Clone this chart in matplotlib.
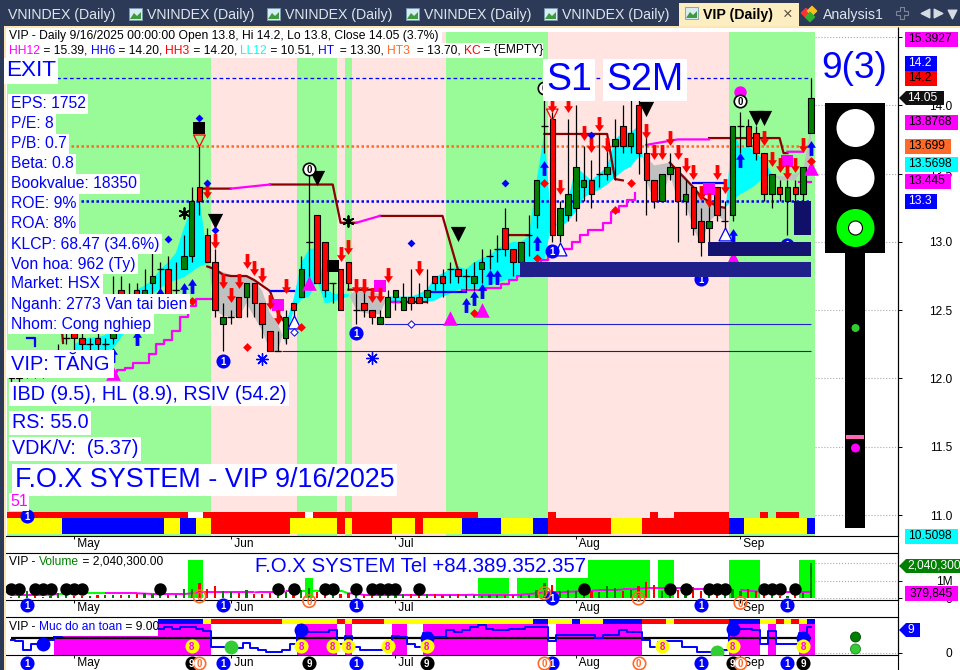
import numpy as np
import matplotlib

matplotlib.use("Agg")
import matplotlib.pyplot as plt
from matplotlib.patches import Circle, Polygon, Rectangle
from matplotlib.path import Path

plt.rcParams["font.family"] = ["Liberation Sans", "DejaVu Sans"]

nan = float("nan")

# daily candles, one value per session
opens = [
    12.05, 12.00, 12.05, 12.10, 12.05, 12.10, 12.15, 12.30, 12.35, 12.30,
    12.25, 12.30, 12.25, 12.30, 12.65, 12.55, 12.65, 12.60, 12.70, 12.80,
    12.80, 12.65, 12.80, 12.90, 13.40, 13.05, 12.85, 12.40, 12.45, 12.60,
    12.60, 12.70, 12.55, 12.35, 12.20, 12.30, 12.55, 12.60, 13.00, 13.20,
    13.00, 12.70, 12.80, 12.85, 12.50, 12.55, 12.50, 12.40, 12.45, 12.60,
    12.50, 12.60, 12.60, 12.60, 12.75, 12.75, 12.80, 12.80, 12.75, 12.70,
    12.80, 12.90, 12.95, 13.10, 12.95, 12.85, 13.05, 13.20, 13.85, 13.90,
    13.05, 13.20, 13.25, 13.40, 13.45, 13.50, 13.50, 13.70, 13.85, 13.70,
    14.00, 13.65, 13.45, 13.30, 13.50, 13.55, 13.30, 13.40, 13.15, 13.10,
    13.40, 13.15, 13.20, 13.85, 13.85, 13.80, 13.65, 13.35, 13.40, 13.30,
    13.40, 13.35, 13.80,
]
closes = [
    12.00, 12.05, 12.10, 12.05, 12.10, 12.15, 12.20, 12.30, 12.30, 12.25,
    12.25, 12.25, 12.25, 12.35, 12.55, 12.55, 12.55, 12.65, 12.75, 12.80,
    12.60, 12.65, 12.90, 13.30, 13.30, 12.85, 12.50, 12.45, 12.45, 12.45,
    12.70, 12.55, 12.40, 12.20, 12.20, 12.45, 12.50, 12.80, 13.00, 12.70,
    12.65, 12.70, 12.50, 12.70, 12.50, 12.50, 12.45, 12.45, 12.60, 12.65,
    12.60, 12.55, 12.55, 12.65, 12.70, 12.70, 12.80, 12.75, 12.75, 12.75,
    12.85, 12.90, 12.95, 12.95, 12.85, 13.00, 13.05, 13.45, 13.85, 13.05,
    13.25, 13.35, 13.55, 13.45, 13.35, 13.50, 13.55, 13.75, 13.70, 13.80,
    13.65, 13.45, 13.30, 13.50, 13.55, 13.30, 13.35, 13.10, 13.00, 13.15,
    13.20, 13.15, 13.85, 13.85, 13.70, 13.65, 13.35, 13.50, 13.35, 13.40,
    13.35, 13.55, 14.05,
]
highs = [
    12.10, 12.10, 12.15, 12.15, 12.15, 12.20, 12.25, 12.40, 12.40, 12.35,
    12.30, 12.35, 12.30, 12.75, 12.75, 12.70, 12.70, 12.80, 12.95, 12.85,
    12.90, 12.85, 13.05, 13.40, 13.70, 13.10, 12.95, 12.55, 12.50, 12.60,
    12.70, 12.70, 12.55, 12.35, 12.35, 12.50, 12.55, 12.90, 13.50, 13.20,
    13.00, 12.70, 12.80, 12.85, 12.65, 12.65, 12.50, 12.50, 12.65, 12.65,
    12.70, 12.80, 12.70, 12.80, 12.75, 12.80, 12.85, 12.80, 12.80, 12.85,
    12.95, 12.95, 13.05, 13.25, 12.95, 13.00, 13.20, 13.45, 14.05, 13.95,
    13.30, 13.90, 14.00, 13.70, 13.60, 13.80, 13.70, 13.90, 14.00, 14.05,
    14.05, 13.85, 13.45, 13.50, 13.65, 13.55, 13.45, 13.40, 13.25, 13.30,
    13.40, 13.30, 13.85, 13.95, 13.90, 13.85, 13.65, 13.50, 13.45, 13.45,
    13.45, 13.55, 14.20,
]
lows = [
    11.95, 11.95, 12.00, 12.00, 12.00, 12.05, 12.10, 12.25, 12.20, 12.20,
    12.20, 12.20, 12.20, 12.25, 12.50, 12.45, 12.50, 12.50, 12.60, 12.55,
    12.50, 12.60, 12.80, 12.85, 13.20, 12.85, 12.45, 12.20, 12.40, 12.45,
    12.45, 12.45, 12.30, 12.20, 12.20, 12.25, 12.45, 12.60, 12.70, 12.70,
    12.60, 12.55, 12.50, 12.65, 12.40, 12.45, 12.40, 12.40, 12.45, 12.50,
    12.50, 12.50, 12.55, 12.55, 12.65, 12.60, 12.70, 12.70, 12.65, 12.65,
    12.70, 12.80, 12.85, 12.90, 12.75, 12.80, 12.90, 13.10, 13.65, 13.00,
    13.00, 13.15, 13.15, 13.30, 13.25, 13.40, 13.45, 13.45, 13.65, 13.65,
    13.50, 13.20, 13.25, 13.30, 13.45, 13.00, 13.20, 13.05, 12.90, 13.00,
    13.15, 13.05, 13.15, 13.65, 13.70, 13.60, 13.30, 13.25, 13.30, 13.05,
    13.30, 13.30, 13.80,
]
volumes = [
    0.10, 0.15, 0.45, 0.15, 0.10, 0.12, 0.30, 0.25, 0.12, 0.15,
    0.15, 0.20, 0.20, 0.20, 0.20, 0.20, 0.25, 0.30, 0.25, 0.20,
    0.20, 0.20, 0.55, 0.55, 0.90, 0.55, 0.70, 0.40, 0.35, 0.30,
    0.50, 0.25, 0.25, 0.30, 0.25, 0.35, 0.45, 0.50, 0.60, 0.35,
    0.30, 0.25, 0.25, 0.30, 0.20, 0.20, 0.20, 0.15, 0.20, 0.30,
    0.25, 0.25, 0.30, 0.25, 0.25, 0.20, 0.20, 0.25, 0.20, 0.20,
    0.15, 0.20, 0.20, 0.20, 0.20, 0.20, 0.20, 0.50, 0.90, 0.75,
    0.40, 0.50, 0.40, 0.40, 0.40, 0.35, 0.70, 0.60, 0.40, 0.50,
    0.70, 0.95, 0.75, 0.40, 0.35, 0.50, 0.30, 0.65, 0.45, 0.30,
    0.25, 0.25, 0.55, 0.40, 0.55, 0.40, 0.30, 0.20, 0.15, 0.15,
    0.20, 0.30, 2.04,
]
volume_avg = [
    0.20, 0.20, 0.20, 0.20, 0.20, 0.22, 0.25, 0.28, 0.30, 0.30,
    0.30, 0.30, 0.30, 0.30, 0.30, 0.30, 0.30, 0.28, 0.26, 0.25,
    0.25, 0.25, 0.25, 0.30, 0.35, 0.35, 0.35, 0.35, 0.35, 0.35,
    0.35, 0.35, 0.38, 0.38, 0.38, 0.40, 0.40, 0.40, 0.40, 0.45,
    0.45, 0.45, 0.45, 0.30, 0.28, 0.20, 0.20, 0.20, 0.20, 0.20,
    0.20, 0.20, 0.20, 0.20, 0.20, 0.20, 0.20, 0.20, 0.20, 0.22,
    0.22, 0.22, 0.22, 0.22, 0.22, 0.22, 0.25, 0.30, 0.35, 0.35,
    0.35, 0.38, 0.40, 0.45, 0.45, 0.48, 0.48, 0.48, 0.52, 0.52,
    0.55, 0.60, 0.60, 0.60, 0.60, 0.60, 0.60, 0.55, 0.55, 0.55,
    0.55, 0.55, 0.50, 0.50, 0.45, 0.40, 0.38, 0.38, 0.38, 0.38,
    0.38, 0.38, 0.38,
]
safety = [
    5, 4.5, 1.2, 3.5, 3.5, 5, 6.5, 7, 7, 7,
    8, 8, 8, 8, 8, 8, 8, 8, 8, 9.5,
    10.3, 9.5, 10, 10, 9.3, 8.7, 2.5, 2.5, 2.5, 2,
    3.8, 2, 1.2, 0.2, 0.2, 1.2, 3.5, 9, 8.4, 8.4,
    8.4, 9, 3.5, 6.6, 2.5, 1.2, 1.2, 1.2, 1.2, 6.6,
    6.4, 3.5, 2.5, 7.7, 6.4, 6.4, 9, 8.4, 9, 10.3,
    11, 9.5, 9, 9, 9.5, 9.5, 10.3, 10.3, 10.3, 4.7,
    6.9, 6.9, 6.9, 6.9, 6.9, 6, 6.9, 7, 9, 8.4,
    8.4, 5, 2.5, 4.3, 4.7, 4.7, 2.5, 2.5, 0.2, 0.2,
    1.2, 1, 11, 9.5, 9.5, 9, 3.7, 8.6, 3.7, 3.5,
    3.5, 7.7, 10.3,
]

# colour runs as (colour key, number of sessions)
regime_runs = [("g", 26), ("p", 11), ("g", 5), ("p", 1), ("g", 1), ("p", 12),
               ("g", 13), ("p", 23), ("g", 11)]
strip_runs = [("y", 7), ("b", 13), ("y", 2), ("b", 2), ("y", 2), ("r", 10), ("y", 6),
              ("r", 1), ("y", 1), ("r", 5), ("y", 3), ("r", 1), ("y", 5), ("b", 5),
              ("y", 4), ("b", 2), ("r", 8), ("y", 4), ("r", 11), ("b", 2), ("y", 8), ("b", 1)]
flag_runs = [("r", 23), ("w", 2), ("r", 13), ("w", 1), ("r", 21), (None, 9), ("r", 1),
             (None, 12), ("r", 1), (None, 2), ("r", 7), (None, 4), ("r", 1), (None, 1),
             ("r", 3), (None, 2)]
safety_strip_runs = [("b", 25), ("y", 1), ("r", 9), ("y", 7), ("r", 1), ("y", 1), ("r", 4),
                     ("y", 19), ("b", 2), ("y", 3), ("b", 1), ("y", 3), ("b", 5), ("r", 3),
                     ("y", 1), ("r", 7), ("b", 4), ("y", 2), ("r", 1), ("y", 1), ("r", 1),
                     ("y", 1), ("b", 1)]
volume_block_runs = [(0, 23), (2.2, 2), (0, 13), (1.17, 1), (0, 21), (1.17, 4), (0, 1),
                     (1.17, 4), (0, 1), (1.17, 4), (2.2, 8), (0, 1), (2.2, 2), (0, 7),
                     (2.2, 4), (0, 5), (2.2, 2)]
avg_colour_runs = [("m", 6), ("l", 6), ("m", 12), ("m", 13), ("l", 6), ("m", 26), ("m", 13),
                   ("m", 8), ("l", 3), ("m", 10)]

month_bars = [8, 28, 49, 72, 93]
month_labels = ["May", "Jun", "Jul", "Aug", "Sep"]
price_ticks = [11.0, 11.5, 12.0, 12.5, 13.0, 13.5, 14.0, 14.5]

# cloud between fast and slow average, first value is session 8
cloud_start = 8
cloud_fast = [
    12.25, 12.28, 12.30, 12.30, 12.32, 12.38, 12.50, 12.58, 12.65, 12.68,
    12.72, 12.80, 12.85, 12.92, 13.10, 13.25, 13.32, 12.90, 12.50, 12.46,
    12.45, 12.45, 12.55, 12.45, 12.35, 12.20, 12.20, 12.40, 12.58, 12.85,
    12.95, 12.95, 12.68, 12.62, 12.62, 12.62, 12.50, 12.48, 12.47, 12.47,
    12.60, 12.60, 12.60, 12.60, 12.62, 12.65, 12.74, 12.77, 12.80, 12.82,
    12.80, 12.85, 12.88, 12.90, 12.95, 12.98, 13.00, 13.00, 13.04, 13.45,
    13.80, 13.05, 13.20, 13.30, 13.55, 13.50, 13.45, 13.50, 13.55, 13.75,
    13.80, 13.80, 13.85, 13.45, 13.30, 13.32, 13.50, 13.30, 13.28, 13.10,
    12.98, 13.15, 13.20, 13.15, 13.85, 13.68, 13.70, 13.65, 13.60, 13.50,
    13.45, 13.45, 13.45, 13.55, 13.50,
]
cloud_slow = [
    12.20, 12.20, 12.20, 12.20, 12.20, 12.22, 12.30, 12.38, 12.45, 12.52,
    12.62, 12.66, 12.70, 12.72, 12.74, 12.78, 12.82, 12.84, 12.80, 12.78,
    12.76, 12.75, 12.75, 12.72, 12.64, 12.48, 12.40, 12.26, 12.50, 12.58,
    12.60, 12.72, 12.55, 12.56, 12.58, 12.60, 12.65, 12.65, 12.63, 12.62,
    12.56, 12.55, 12.55, 12.55, 12.55, 12.56, 12.57, 12.60, 12.62, 12.65,
    12.66, 12.66, 12.66, 12.68, 12.70, 12.72, 12.73, 12.75, 12.77, 12.85,
    12.87, 13.15, 13.10, 13.15, 13.22, 13.32, 13.36, 13.38, 13.42, 13.47,
    13.52, 13.55, 13.62, 13.62, 13.56, 13.57, 13.58, 13.52, 13.48, 13.40,
    13.33, 13.30, 13.26, 13.25, 13.30, 13.35, 13.38, 13.42, 13.47, 13.49,
    13.48, 13.48, 13.50, 13.52, 13.85,
]

# stepped resistance lines, nan breaks the line
maroon_bars = [0, 1, 2, 3, 4, 6, 6.5, 6.6, nan, 24, 28, nan, 33, 41, 42, 44, nan, 47, 55, 57, nan,
               25, 26, 27, 28, 30, 31, 33, 34, 35, nan, 43, 47, nan, 48, 53, nan, 63, 66, nan,
               68, 76, 77, 78, nan, 84, 87, 88, 90, 91, nan, 89, 98, 98.5, 99]
maroon_prices = [13.50, 13.36, 13.21, 13.06, 12.92, 12.76, 12.33, 12.26, nan, 13.39, 13.39, nan,
                 13.42, 13.42, 13.14, 13.14, nan, 13.19, 13.19, 12.79, nan,
                 12.82, 12.80, 12.76, 12.75, 12.75, 12.72, 12.64, 12.48, 12.40, nan,
                 12.65, 12.65, nan, 12.56, 12.56, nan, 13.05, 13.05, nan,
                 13.79, 13.79, 13.46, 13.45, nan, 13.58, 13.40, 13.33, 13.26, 13.25, nan,
                 13.76, 13.76, 13.65, 13.65]
pink_bars = [28, 33, nan, 44, 47, nan, 81, 85, 89, nan, 99, 101]
pink_prices = [13.39, 13.42, nan, 13.14, 13.19, nan, 13.71, 13.75, 13.75, nan, 13.66, 13.66]
stair_bars = [13, 14, 15, 16, 17, 18, 19, 20, 21, 22, 23, 24, 25, 26, nan,
              48, 49, 50, nan, 57, 58, 59, 60, 61, 62, 63, 64, 65, 66, 67, 68, 69, 70, 71,
              72, 73, 74, 75, 76, 77, 78, 79, 80, nan, 83, 84, nan, 100, 101, 102]
stair_prices = [12.05, 12.06, 12.08, 12.11, 12.11, 12.18, 12.25, 12.28, 12.35, 12.45, 12.53,
                12.58, 12.58, 12.58, nan, 12.56, 12.56, 12.56, nan,
                12.65, 12.65, 12.65, 12.65, 12.66, 12.66, 12.69, 12.72, 12.75, 12.75, 12.80, 12.87,
                12.90, 12.95, 12.95, 13.00, 13.05, 13.09, 13.09, 13.14, 13.22, 13.26, 13.31, 13.36,
                nan, 13.45, 13.45, nan, 13.44, 13.44, 13.44]
blue_bars = [2, 3, 3, nan, 33, 36, nan, 53, 58, nan, 87, 91]
blue_prices = [12.30, 12.30, 12.24, nan, 12.64, 12.64, nan, 12.63, 12.63, nan, 13.43, 13.43]

# marks on the price pane
sell_bars = [26, 25, 27, 28, 29, 30, 31, 32, 33, 34, 35, 42, 43, 44, 45, 46, 47, 48, 52, 69, 71, 70,
             73, 74, 75, 76, 81, 82, 83, 84, 85, 86, 87, 88, 89, 90, 91, 96, 97, 98, 99, 100, 101]
sell_prices = [13.01, 13.37, 12.71, 12.61, 12.71, 12.86, 12.81, 12.76, 12.56, 12.45, 12.68, 12.91,
               12.96, 12.68, 12.68, 12.61, 12.61, 12.76, 12.81, 14.00, 14.00, 13.40, 13.80, 13.71,
               13.86, 13.71, 13.81, 13.66, 13.66, 13.76, 13.66, 13.56, 13.51, 13.36, 13.31, 13.51,
               13.41, 13.76, 13.61, 13.56, 13.51, 13.56, 13.71]
buy_bars = [13, 16, 19, 22, 23, 58, 59, 60, 61, 62, 67, 68, 93, 92, 102]
buy_prices = [12.17, 12.30, 12.61, 12.65, 12.68, 12.54, 12.59, 12.64, 12.74, 12.74, 12.99, 13.54,
              13.60, 13.04, 13.69]
peak_bars = [26, 39, 57, 81, 95, 96]
peak_prices = [13.15, 13.47, 13.06, 13.97, 13.91, 13.91]
black_square_bars = [24, 41]
black_square_prices = [13.83, 12.82]
pink_square_bars = [34, 47, 89, 99]
pink_square_prices = [12.54, 12.68, 13.39, 13.59]
pink_up_bars = [13, 38, 56, 60, 92, 102]
pink_up_prices = [12.04, 12.70, 12.44, 12.50, 12.88, 13.54]
hollow_up_bars = [36, 70, 91]
hollow_up_prices = [12.41, 12.95, 13.06]
hollow_down_bars = [24, 69]
hollow_down_prices = [13.74, 13.93]
blue_dot_bars = [24, 25, 26, 20, 51, 63, 74]
blue_dot_prices = [13.91, 13.43, 13.09, 13.02, 12.99, 13.43, 13.78]
red_dot_bars = [23, 30, 37, 68, 67, 59, 79, 77, 102]
red_dot_prices = [12.57, 12.23, 12.38, 13.43, 12.88, 12.48, 13.43, 13.23, 13.59]
star_bars = [22, 43]
star_prices = [13.21, 13.15]
snow_bars = [32, 46]
snow_prices = [12.14, 12.15]
one_bars = [27, 44, 69, 88, 99, 2]
one_prices = [12.13, 12.33, 12.93, 12.73, 12.98, 10.99]
zero_bars = [38, 68, 93]
zero_prices = [13.53, 14.13, 14.03]
zone_starts = [64.9, 88.9, 99.8]
zone_ends = [102.0, 102.0, 102.0]
zone_lows = [12.74, 12.90, 13.05]
zone_highs = [12.85, 13.00, 13.30]

# badges and dots of the lower panes
vol_dot_bars = [0, 1, 3, 4, 5, 7, 8, 9, 19, 34, 36, 40, 41, 44, 46, 47, 48, 49, 52, 73, 84, 86,
                89, 90, 91, 96, 97, 98, 100]
vol_one_bars = [2, 27, 44, 69, 88, 99]
vol_one_values = [-0.35, -0.35, -0.35, 0.05, -0.35, -0.35]
vol_zero_bars = [24, 38, 68, 80, 93]
vol_zero_values = [0.12, -0.15, 0.3, 0.0, -0.25]
big_blue_bars = [4, 37, 53, 92, 101]
big_blue_values = [3.5, 9, 6.0, 9.5, 6.0]
big_green_bars = [28, 90]
big_green_values = [2.5, 0.2]
eight_bars = [23, 37, 41, 43, 48, 53, 83, 92, 101]
eight_values = [2.6] * 9
foot_one_bars = [2, 27, 44, 69, 88, 99]
foot_nine_bars = [23, 38, 53, 92, 101]
foot_zero_bars = [24, 68, 80, 93]

# text
fund_labels = ["EPS: 1752", "P/E: 8", "P/B: 0.7", "Beta: 0.8", "Bookvalue: 18350", "ROE: 9%", "ROA: 8%",
               "KLCP: 68.47 (34.6%)", "Von hoa: 962 (Ty)", "Market: HSX", "Nganh: 2773 Van tai bien",
               "Nhom: Cong nghiep"]
header_top = "VIP - Daily 9/16/2025 00:00:00 Open 13.8, Hi 14.2, Lo 13.8, Close 14.05 (3.7%)"
header_parts = [("HH12", "#ff00ff"), (" = 15.39, ", "black"), ("HH6", "#0000ff"), (" = 14.20, ", "black"),
                ("HH3", "#ff0000"), (" = 14.20, ", "black"), ("LL12", "#00ffff"), (" = 10.51, ", "black"),
                ("HT", "#0000ff"), ("  = 13.30, ", "black"), ("HT3", "#ff6a28"), ("  = 13.70, ", "black"),
                ("KC", "#ff0000"), (" = {EMPTY}", "black")]
side_texts = ["15.3927", "14.2", "14.2", "13.8768", "13.699", "13.5698", "13.445", "13.3", "10.5098"]
side_rows = [39, 63, 78, 122, 146, 164, 181, 201, 536]
side_ends = [958, 937, 937, 958, 951, 958, 951, 937, 958]
side_faces = ["#ff00ff", "#0000ff", "#ff0000", "#ff00ff", "#ff6a28", "#00ffff", "#ff00ff", "#0000ff", "#00ffff"]
side_inks = ["black", "white", "black", "black", "black", "black", "black", "white", "black"]

PANE_LEFT, PANE_RIGHT = 5, 898
BAR_ZERO, BAR_STEP = 11.3, 7.84
GREEN_BG, PINK_BG = "#98fb98", "#ffe4e1"
STRIP_COLOURS = {"y": "#ffff00", "b": "#0000ff", "r": "#ff0000", "w": "#ffffff"}


def expand(runs):
    out = []
    for key, count in runs:
        out.extend([key] * count)
    return out


def pane(fig, top, bottom, ylim):
    ax = fig.add_axes([PANE_LEFT / 960, 1 - bottom / 670, (PANE_RIGHT - PANE_LEFT) / 960, (bottom - top) / 670])
    ax.set_xlim((PANE_LEFT - BAR_ZERO) / BAR_STEP, (PANE_RIGHT - BAR_ZERO) / BAR_STEP)
    ax.set_ylim(*ylim)
    ax.spines["left"].set_visible(False)
    ax.yaxis.tick_right()
    ax.set_xticks(month_bars)
    ax.set_xticklabels([" " + m for m in month_labels], ha="left", fontsize=8.6)
    ax.tick_params(axis="x", length=2.4, width=0.7, pad=-1.2, direction="out")
    ax.tick_params(axis="y", length=3.2, width=0.7, pad=36, labelsize=8.6)
    return ax


def right_align_ticks(ax):
    for label in ax.yaxis.get_ticklabels():
        label.set_horizontalalignment("right")


def badge(ax, bars, values, text, face, ink, edge=None, zorder=8):
    ax.scatter(bars, values, s=80, c=face, edgecolors=edge if edge else face, linewidths=1.2, zorder=zorder, clip_on=False)
    for bar, value in zip(bars, values):
        ax.text(bar, value, text, color=ink, fontsize=7, fontweight="bold", ha="center", va="center_baseline",
                zorder=zorder + 0.1, clip_on=False)


def box_text(ax, x, y, text, size, pad=1.0):
    ax.text(x, y, text, color="#0000ff", fontsize=size, ha="left", va="center", zorder=12,
            bbox=dict(fc="white", ec="none", pad=pad))


def text_width(fig, text, size):
    renderer = fig.canvas.get_renderer()
    probe = fig.text(0, 0, text + ".", fontsize=size)
    full = probe.get_window_extent(renderer).width
    probe.set_text(".")
    dot = probe.get_window_extent(renderer).width
    probe.remove()
    return full - dot


def parts_line(fig, ax, x, y, parts, size=8.64):
    for text, colour in parts:
        ax.text(x, y, text, color=colour, fontsize=size, ha="left", va="center", zorder=13)
        x += text_width(fig, text, size)
    return x


def pointer_label(ax, x0, x1, y, text, face, ink, clip=False):
    points = [(x0, y), (x0 + 7, y - 7), (x1, y - 7), (x1, y + 7), (x0 + 7, y + 7)]
    ax.add_patch(Polygon(points, closed=True, fc=face, ec="none", zorder=14))
    ax.text(x0 + 8, y, text, color=ink, fontsize=8.64, ha="left", va="center", zorder=15, clip_on=clip)


def draw_price_pane(fig):
    ax = pane(fig, 27, 536, (10.847, 14.573))
    ax.spines["top"].set_visible(False)
    bars = np.arange(len(opens))
    ax.set_yticks(price_ticks)
    ax.set_yticklabels([f"{t:.1f}" for t in price_ticks])
    right_align_ticks(ax)
    ax.hlines(price_ticks, 102.5, ax.get_xlim()[1], colors="#aaaaaa", linestyles=":", linewidth=0.8, zorder=0.5)

    regime = expand(regime_runs)
    ax.bar(bars, [0.99] * len(bars), bottom=0, width=1, color=[GREEN_BG if r == "g" else PINK_BG for r in regime],
           transform=ax.get_xaxis_transform(), zorder=1, antialiased=False)

    flags = expand(flag_runs)
    for bar, key in zip(bars, flags):
        if key:
            ax.bar(bar, 0.04, bottom=10.98, width=1, color=STRIP_COLOURS[key], zorder=2, antialiased=False)
    ax.bar(bars, 0.12, bottom=10.86, width=1, color=[STRIP_COLOURS[k] for k in expand(strip_runs)], zorder=2,
           antialiased=False)

    cloud_bars = np.arange(cloud_start, cloud_start + len(cloud_fast))
    fast, slow = np.array(cloud_fast), np.array(cloud_slow)
    ax.fill_between(cloud_bars, fast, slow, where=fast >= slow, color="#00ffff", lw=0, interpolate=True, zorder=3)
    ax.fill_between(cloud_bars, fast, slow, where=fast <= slow, color="#c0c0c0", lw=0, interpolate=True, zorder=3)

    for start, end, low, high, shade in zip(zone_starts, zone_ends, zone_lows, zone_highs,
                                            ["#20208a", "#141470", "#101068"]):
        ax.bar(start, high - low, bottom=low, width=end - start, align="edge", color=shade, zorder=9)

    ax.hlines(14.2, 0, 102, colors="#0000ff", linestyles=(0, (3, 2.2)), linewidth=0.9, zorder=3.5)
    ax.hlines(13.699, 0, 102, colors="#ff6a28", linestyles=(0, (1, 1)), linewidth=1.8, zorder=3.5)
    ax.hlines(13.3, 0, 102, colors="#0000ff", linestyles=(0, (1, 1)), linewidth=1.8, zorder=3.5)
    ax.hlines(12.40, 47.5, 102, colors="#2222cc", linewidth=0.8, zorder=3.5)
    ax.hlines(12.20, 34.5, 102, colors="#222266", linewidth=0.8, zorder=3.5)

    ax.plot(maroon_bars, maroon_prices, color="#8b0000", lw=1.6, zorder=4)
    ax.plot(pink_bars, pink_prices, color="#ff00ff", lw=1.6, zorder=4)
    ax.plot(stair_bars, stair_prices, color="#ff00ff", lw=1.6, drawstyle="steps-mid", zorder=4)
    ax.plot(blue_bars, blue_prices, color="#0000ff", lw=1.6, zorder=4)

    ax.vlines(bars, lows, highs, colors="black", linewidth=0.9, zorder=5)
    bottoms = [min(o, c) for o, c in zip(opens, closes)]
    sizes = [abs(o - c) for o, c in zip(opens, closes)]
    faces = ["#008000" if c >= o else "#ff0000" for o, c in zip(opens, closes)]
    ax.bar(bars, sizes, bottom=bottoms, width=0.7, color=faces, edgecolor="black", linewidth=0.8, zorder=5.5)
    flat = [b for b, s in zip(bars, sizes) if s == 0]
    ax.hlines([opens[b] for b in flat], np.array(flat) - 0.45, np.array(flat) + 0.45, colors="black", linewidth=0.9,
              zorder=5.5)

    down_arrow = Path([(-0.25, 1), (0.25, 1), (0.25, -0.1), (0.6, -0.1), (0, -1), (-0.6, -0.1), (-0.25, -0.1), (-0.25, 1)],
                      closed=True)
    up_arrow = Path([(-0.25, -1), (0.25, -1), (0.25, 0.1), (0.6, 0.1), (0, 1), (-0.6, 0.1), (-0.25, 0.1), (-0.25, -1)],
                    closed=True)
    ax.scatter(sell_bars, sell_prices, marker=down_arrow, s=115, c="#ff0000", linewidths=0, zorder=6)
    ax.scatter(buy_bars, buy_prices, marker=up_arrow, s=115, c="#0000ff", linewidths=0, zorder=6)
    ax.scatter(peak_bars, peak_prices, marker="v", s=120, c="black", linewidths=0, zorder=6)
    ax.scatter(black_square_bars, black_square_prices, marker="s", s=63, c="black", linewidths=0, zorder=6)
    ax.scatter(pink_square_bars, pink_square_prices, marker="s", s=75, c="#ff00ff", linewidths=0, zorder=5.7)
    ax.scatter(pink_up_bars, pink_up_prices, marker="^", s=110, c="#ff00ff", linewidths=0, zorder=5.7)
    ax.scatter([93], [14.10], marker="o", s=80, c="#ff00ff", linewidths=0, zorder=6)
    ax.scatter(hollow_up_bars, hollow_up_prices, marker="^", s=85, facecolors="white", edgecolors="#0000ff",
               linewidths=0.9, zorder=6)
    ax.scatter(hollow_down_bars, hollow_down_prices, marker="v", s=70, facecolors="none", edgecolors="#ff0000",
               linewidths=0.9, zorder=6)
    ax.scatter(blue_dot_bars, blue_dot_prices, marker="D", s=16, c="#0000ff", linewidths=0, zorder=6)
    ax.scatter(red_dot_bars, red_dot_prices, marker="D", s=20, c="#ff0000", linewidths=0, zorder=6)
    ax.scatter([36, 51], [12.34, 12.40], marker="D", s=14, facecolors="white", edgecolors="#0000ff", linewidths=0.7,
               zorder=6)
    ax.scatter(star_bars, star_prices, marker=(6, 2, 0), s=60, c="black", linewidths=1.3, zorder=6)
    ax.scatter(snow_bars, snow_prices, marker="o", s=60, c="white", linewidths=0, zorder=6)
    ax.scatter(snow_bars, snow_prices, marker=(8, 2, 0), s=70, c="#0000ff", linewidths=1.0, zorder=6.1)
    badge(ax, one_bars, one_prices, "1", "#0000ff", "white")
    badge(ax, zero_bars, zero_prices, "0", "white", "black", edge="black")
    return ax


def draw_volume_pane(fig):
    ax = pane(fig, 553, 600, (-0.086, 2.6))
    bars = np.arange(len(volumes))
    ax.set_yticks([0, 1])
    ax.set_yticklabels(["0", "1M"])
    right_align_ticks(ax)
    ax.hlines([0, 1, 2.04], 102.5, ax.get_xlim()[1], colors="#aaaaaa", linestyles=":", linewidth=0.8)
    ax.bar(bars, expand(volume_block_runs), width=1, color="#00ff00", zorder=1, antialiased=False)
    faces = ["#008000" if c >= o else "#ff0000" for o, c in zip(opens, closes)]
    ax.bar(bars, volumes, width=0.28, color=faces, zorder=3)
    for i, key in enumerate(expand(avg_colour_runs)[:-1]):
        ax.plot(bars[i:i + 2], volume_avg[i:i + 2], color="#00ff00" if key == "l" else "#ff00ff", lw=1.4, zorder=2,
                solid_capstyle="butt")
    ax.scatter(vol_dot_bars, [0.55] * len(vol_dot_bars), s=80, c="black", linewidths=0, zorder=4)
    badge(ax, vol_one_bars, vol_one_values, "1", "#0000ff", "white", zorder=9)
    badge(ax, vol_zero_bars, vol_zero_values, "0", "none", "#ff6a28", edge="#ff6a28", zorder=9)
    return ax


def draw_safety_pane(fig):
    ax = pane(fig, 617, 655, (-0.8, 14.1))
    bars = np.arange(len(safety))
    ax.set_yticks([0])
    ax.set_yticklabels(["0"])
    right_align_ticks(ax)
    ax.hlines(0, 102.5, ax.get_xlim()[1], colors="#aaaaaa", linestyles=":", linewidth=0.8)
    safe = [b for b, s in zip(bars, safety) if s >= 5.9]
    ax.bar(safe, 12.2, bottom=-0.8, width=1, color="#ff00ff", zorder=1, antialiased=False)
    ax.bar(bars, 1.9, bottom=11.4, width=1, color=[STRIP_COLOURS[k] for k in expand(safety_strip_runs)], zorder=1,
           antialiased=False)
    ax.hlines(6, 0, 102, colors="black", linewidth=1.6, zorder=2)
    ax.plot(bars, safety, color="#0000ff", lw=1.4, drawstyle="steps-mid", zorder=3)
    ax.scatter(big_blue_bars, big_blue_values, s=100, c="#0000ff", linewidths=0, zorder=4)
    ax.scatter(big_green_bars, big_green_values, s=100, c="#32cd32", linewidths=0, zorder=4)
    badge(ax, eight_bars, eight_values, "8", "#ffff00", "#ff00ff", zorder=5)
    foot = -4.0
    badge(ax, foot_one_bars, [foot] * len(foot_one_bars), "1", "#0000ff", "white", zorder=9)
    badge(ax, foot_nine_bars, [foot] * len(foot_nine_bars), "9", "black", "white", zorder=9)
    badge(ax, foot_zero_bars, [foot] * len(foot_zero_bars), "0", "white", "#ff6a28", edge="#ff6a28", zorder=9)
    return ax


def draw_tabs(ov):
    ov.add_patch(Rectangle((0, 0), 960, 26, fc="#2c3a58", ec="none", zorder=1))
    ov.add_patch(Rectangle((0, 0), 4, 670, fc="#2c3a58", ec="none", zorder=1))
    ov.add_patch(Rectangle((4, 26), 956, 2, fc="#fbe6b4", ec="none", zorder=1))
    ov.add_patch(Rectangle((4, 26), 2, 644, fc="#fbe6b4", ec="none", zorder=1))
    for x in [8, 147, 285, 424, 562]:
        ov.text(x, 15, "VNINDEX (Daily)", color="#dfe5ec", fontsize=10.2, ha="left", va="center", zorder=2)
    for x in [129, 267, 406, 544]:
        ov.add_patch(Rectangle((x, 8), 13, 12, fc="#d8ecf4", ec="#7c9ab0", lw=0.6, zorder=2))
        ov.add_patch(Polygon([(x + 1, 19), (x + 5, 13), (x + 8, 16), (x + 12, 12), (x + 12, 19)], fc="#3d9a3d", ec="none",
                             zorder=3))
    ov.add_patch(Rectangle((679, 3), 120, 23, fc="#fdeec2", ec="none", zorder=2))
    ov.add_patch(Rectangle((685, 7), 13, 12, fc="#d8ecf4", ec="#7c9ab0", lw=0.6, zorder=3))
    ov.add_patch(Polygon([(686, 18), (690, 12), (693, 15), (697, 11), (697, 18)], fc="#3d9a3d", ec="none", zorder=4))
    ov.text(703, 15, "VIP (Daily)", color="black", fontsize=10.2, fontweight="bold", va="center", zorder=3)
    ov.text(788, 14, "×", color="#5a5040", fontsize=12, ha="center", va="center", zorder=3)
    ov.scatter([806, 812, 810], [13, 11, 17], c=["#ff3030", "#ffc020", "#30b030"], s=[22, 22, 22], marker="D", zorder=3)
    ov.text(823, 15, "Analysis1", color="#dfe5ec", fontsize=10.2, va="center", zorder=2)
    ov.scatter([902], [13], marker="P", s=70, facecolors="none", edgecolors="#7c8494", linewidths=0.8, zorder=2)
    ov.scatter([925], [13], marker="<", s=38, c="#d6dce4", zorder=2)
    ov.scatter([938], [13], marker=">", s=38, c="#d6dce4", zorder=2)
    ov.scatter([952], [14], marker="v", s=38, c="#d6dce4", zorder=2)


def draw_signal(ov):
    ov.add_patch(Rectangle((825, 103), 60, 150, fc="black", ec="none", zorder=10))
    ov.add_patch(Rectangle((845, 253), 20, 275, fc="black", ec="none", zorder=10))
    for y, face in zip([128, 178, 228], ["white", "white", "#00ff00"]):
        ov.add_patch(Circle((855.5, y), 19, fc=face, ec="none", zorder=11))
    ov.add_patch(Circle((855.5, 228), 7, fc="white", ec="black", lw=0.8, zorder=12))
    ov.add_patch(Circle((855.5, 328), 4, fc="#32cd32", ec="none", zorder=11))
    ov.add_patch(Rectangle((846, 435), 18, 4, fc="#ff69b4", ec="none", zorder=11))
    ov.add_patch(Circle((855.5, 448), 4.5, fc="#ff00ff", ec="none", zorder=11))
    ov.add_patch(Circle((855.5, 637), 5, fc="#008000", ec="#004400", lw=0.6, zorder=11))
    ov.add_patch(Circle((855.5, 649), 5, fc="#32cd32", ec="#208020", lw=0.6, zorder=11))


def draw_overlay(fig):
    ov = fig.add_axes([0, 0, 1, 1], zorder=20)
    ov.set_xlim(0, 960)
    ov.set_ylim(670, 0)
    ov.axis("off")
    ov.patch.set_alpha(0)
    draw_tabs(ov)
    ov.vlines(898, 27, 670, colors="black", linewidth=0.8, zorder=3)

    ov.add_patch(Rectangle((7, 28), 435, 15, fc="white", ec="none", zorder=11))
    ov.add_patch(Rectangle((7, 43), 536, 15, fc="white", ec="none", zorder=11))
    ov.text(9, 36, header_top, color="black", fontsize=8.72, va="center", zorder=13)
    parts_line(fig, ov, 9, 50.5, header_parts)

    box_text(ov, 6, 71, "EXIT", 16.2, pad=1.5)
    for row, text in enumerate(fund_labels):
        box_text(ov, 11, 104 + 20 * row, text, 11.3, pad=1.8)
    box_text(ov, 11, 364, "VIP: TĂNG", 14.4, pad=3)
    box_text(ov, 12, 394, "IBD (9.5), HL (8.9), RSIV (54.2)", 14.2, pad=2)
    box_text(ov, 12, 423, "RS: 55.0", 14.2, pad=2)
    box_text(ov, 12, 449, "VDK/V:  (5.37)", 14.2, pad=2)
    box_text(ov, 15, 480, "F.O.X SYSTEM - VIP 9/16/2025", 19.4, pad=2)
    ov.text(10, 502, "51", color="#ff00ff", fontsize=11.5, va="center", zorder=12,
            bbox=dict(fc="white", ec="none", pad=1))
    box_text(ov, 546, 80, "S1", 27, pad=2.5)
    box_text(ov, 606, 80, "S2M", 27, pad=2.5)
    ov.text(854, 68, "9(3)", color="#0000ff", fontsize=26.7, ha="center", va="center", zorder=12)
    box_text(ov, 255, 567, "F.O.X SYSTEM Tel +84.389.352.357", 14.7, pad=1)

    parts_line(fig, ov, 9, 562, [("VIP - ", "black"), ("Volume", "#008000"), (" = 2,040,300.00", "black")])
    ov.add_patch(Rectangle((7, 619), 151, 17, fc="white", ec="none", zorder=11))
    parts_line(fig, ov, 9, 627, [("VIP - ", "black"), ("Muc do an toan", "#0000ff"), (" = 9.00", "black")])

    draw_signal(ov)

    for text, row, end, face, ink in zip(side_texts, side_rows, side_ends, side_faces, side_inks):
        ov.add_patch(Rectangle((905, row - 7.5), end - 905, 15, fc=face, ec="none", zorder=14))
        ov.text(908, row, text, color=ink, fontsize=8.64, va="center", zorder=15)
    pointer_label(ov, 899, 944, 98, "14.05", "#101010", "white")
    pointer_label(ov, 899, 960, 566, "2,040,300", "#008000", "white", clip=True)
    ov.add_patch(Rectangle((905, 586), 53, 15, fc="#ff00ff", ec="none", zorder=14))
    ov.text(909, 593, "379,845", color="black", fontsize=8.64, va="center", zorder=15)
    pointer_label(ov, 899, 920, 630, "9", "#0000ff", "white")


def main():
    fig = plt.figure(figsize=(9.6, 6.7), dpi=100)
    fig.canvas.draw()
    draw_price_pane(fig)
    draw_volume_pane(fig)
    draw_safety_pane(fig)
    draw_overlay(fig)
    fig.savefig("out.png", dpi=100)


if __name__ == "__main__":
    main()
